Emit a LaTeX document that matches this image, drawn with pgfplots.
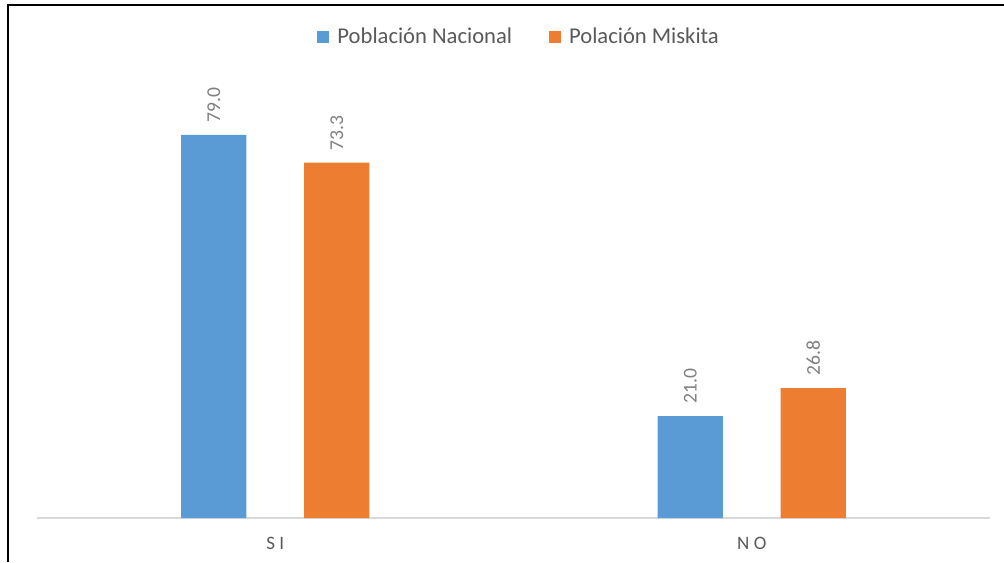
\documentclass[border=0pt]{standalone}
\usepackage{pgfplots}
\pgfplotsset{compat=1.18}
\usepackage{fontspec}
\setmainfont{Carlito}
\definecolor{cblue}{HTML}{5B9BD5}
\definecolor{corange}{HTML}{ED7D31}
\definecolor{txtgray}{HTML}{595959}
\definecolor{lblgray}{HTML}{7F7F7F}
\definecolor{axgray}{HTML}{D9D9D9}
\begin{document}
\begin{tikzpicture}
\useasboundingbox (-18.5pt,-22pt) rectangle (483.5pt,259pt);
\draw[line width=1pt] (-14.5pt,-22pt) -- (-14.5pt,256.5pt) -- (483.5pt,256.5pt);
\begin{axis}[
  at={(0,0)}, anchor=south west,
  scale only axis,
  width=476.5pt, height=218.25pt,
  xmin=-0.5, xmax=1.5, ymin=0, ymax=90,
  ybar, bar width=0.1366,
  xtick={0,1}, xticklabels={S I, N O},
  major tick length=0pt,
  axis y line=none,
  axis x line*=bottom,
  x axis line style={draw=axgray, line width=0.8pt},
  xticklabel style={font=\fontsize{9.5}{11}\selectfont, text=txtgray, yshift=-6pt},
  clip=false,
  /pgf/number format/assume math mode=true,
  nodes near coords={\pgfmathprintnumber[fixed,fixed zerofill,precision=1,assume math mode=true]{\pgfplotspointmeta}},
  nodes near coords style={rotate=90, anchor=west, font=\fontsize{9.8}{11}\selectfont, text=lblgray, inner xsep=6pt},
  legend style={at={(0.507,1.102)}, anchor=center, draw=none, fill=none,
    font=\fontsize{11.3}{13}\selectfont, text=txtgray,
    /tikz/every even column/.append style={column sep=16.5pt}},
  legend columns=2,
  legend image code/.code={\fill[#1,draw=none] (0pt,-3pt) rectangle (6pt,3pt); \path (0pt,0pt) -- (8pt,0pt);},
]
\addplot[fill=cblue, draw=none, bar shift=-0.129] coordinates {(0,79.0) (1,21.0)};
\addplot[fill=corange, draw=none, bar shift=0.129] coordinates {(0,73.3) (1,26.8)};
\legend{Población Nacional, Polación Miskita}
\end{axis}
\end{tikzpicture}
\end{document}
